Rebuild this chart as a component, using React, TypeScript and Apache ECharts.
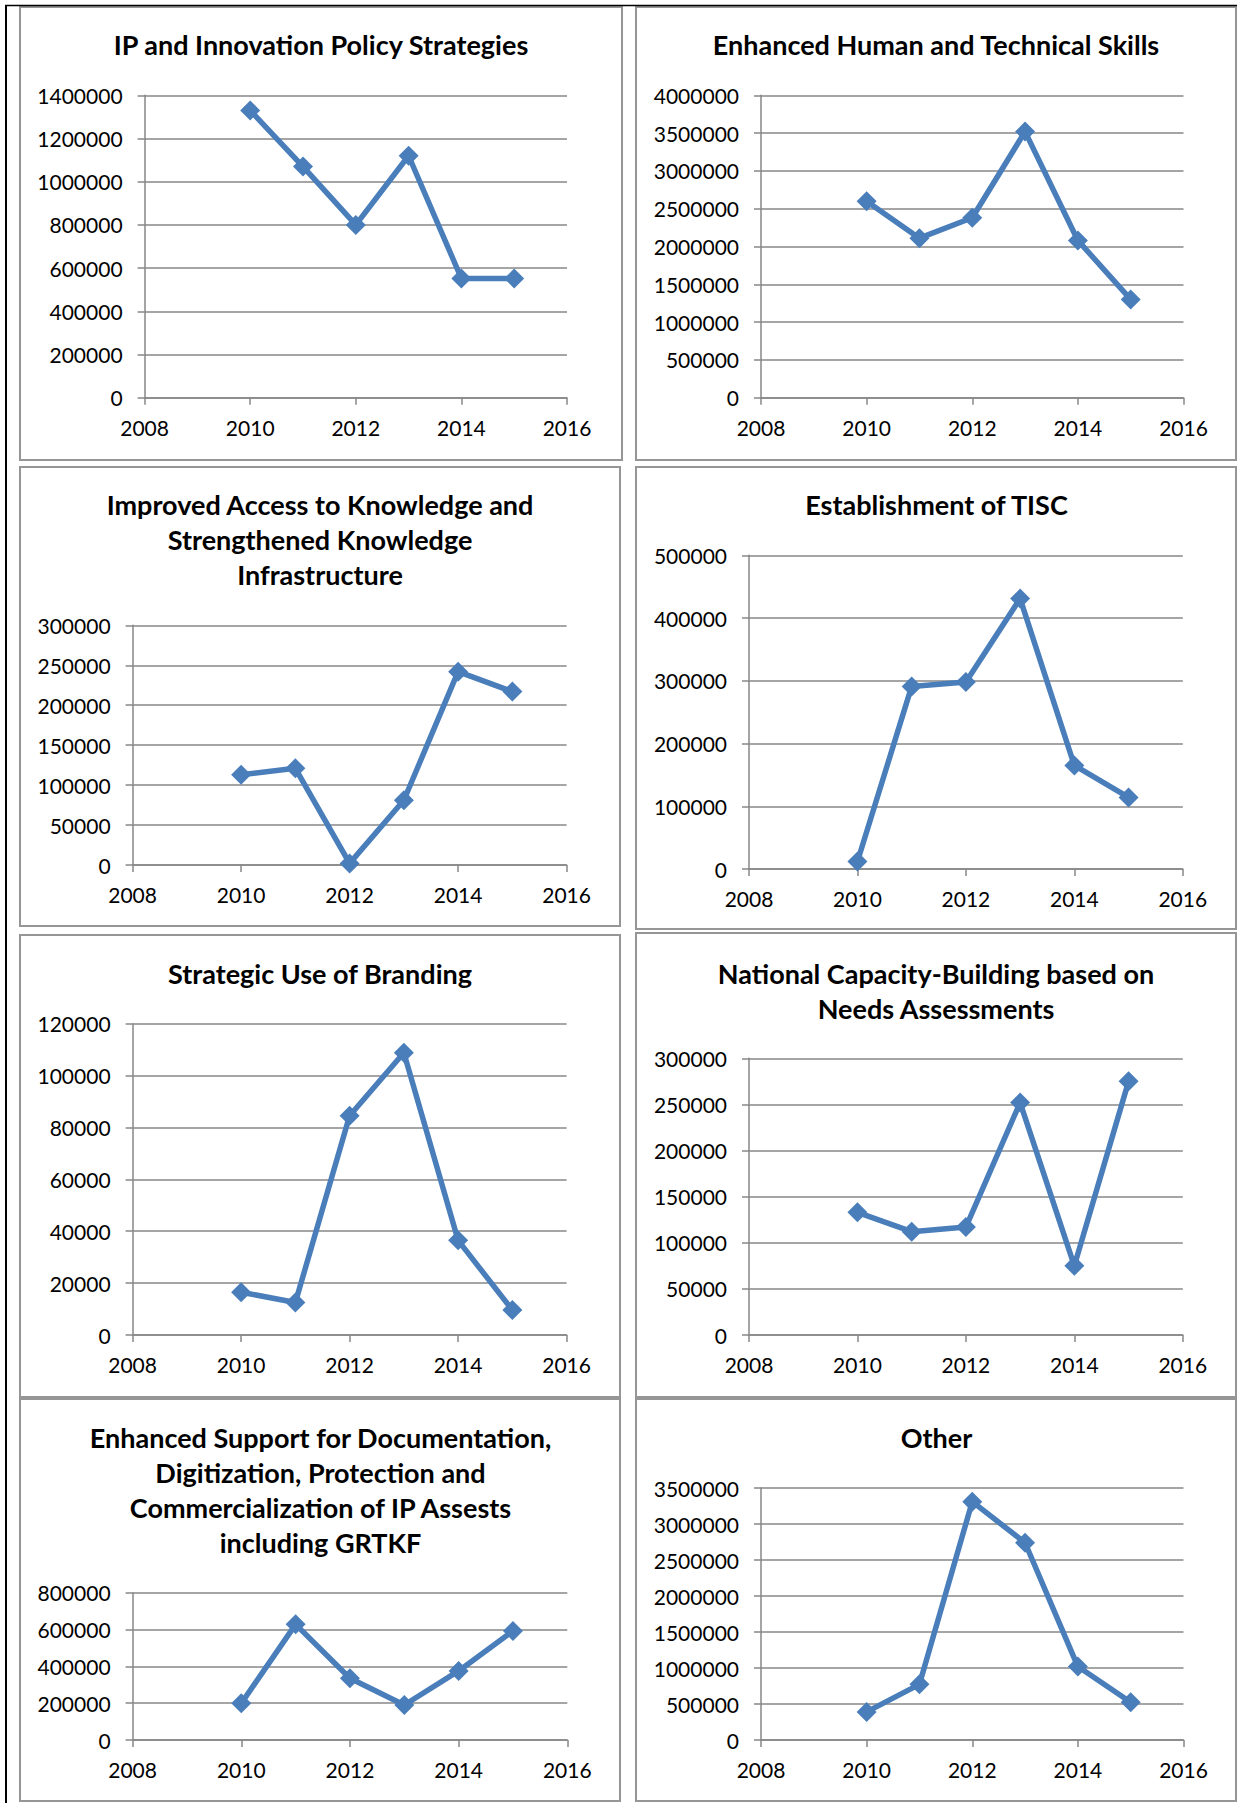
import React, { useEffect, useRef } from "react";
import * as echarts from "echarts";

// Fiscal years plotted on every panel
const years = [2010, 2011, 2012, 2013, 2014, 2015];

// Shared x axis range (years)
const xMin = 2008;
const xMax = 2016;
const xStep = 2;

// Panel titles, in reading order
const titles = [
  "IP and Innovation Policy Strategies",
  "Enhanced Human and Technical Skills",
  "Improved Access to Knowledge and\nStrengthened Knowledge\nInfrastructure",
  "Establishment of TISC",
  "Strategic Use of Branding",
  "National Capacity-Building based on\nNeeds Assessments",
  "Enhanced Support for Documentation,\nDigitization, Protection and\nCommercialization of IP Assests\nincluding GRTKF",
  "Other",
];

// Spending per year for each programme area
const ipPolicy = [1330000, 1070000, 800000, 1120000, 552000, 552000];
const humanSkills = [2600000, 2110000, 2380000, 3520000, 2080000, 1300000];
const knowledgeAccess = [113000, 121000, 2000, 81000, 242000, 217000];
const tisc = [12000, 291000, 298000, 431000, 165000, 114000];
const branding = [16500, 12500, 84500, 108800, 36500, 9600];
const nationalCapacity = [133000, 112000, 117000, 252000, 75000, 275000];
const grtkf = [199000, 628000, 335000, 190000, 375000, 592000];
const other = [390000, 773000, 3310000, 2740000, 1020000, 523000];

const seriesValues = [
  ipPolicy,
  humanSkills,
  knowledgeAccess,
  tisc,
  branding,
  nationalCapacity,
  grtkf,
  other,
];

// Value axis ranges per panel
const yMaxes = [1400000, 4000000, 300000, 500000, 120000, 300000, 800000, 3500000];
const ySteps = [200000, 500000, 50000, 100000, 20000, 50000, 200000, 500000];

// Page layout: framed boxes, plot areas and title anchors (pixels)
type Panel = {
  box: [number, number, number, number];
  plot: [number, number, number, number];
  titleX: number;
  titleY: number;
};

const panels: Panel[] = [
  { box: [20, 7, 602, 453], plot: [144.6, 95.3, 422.4, 302.4], titleX: 321, titleY: 26.5 },
  { box: [636, 7, 600, 453], plot: [761, 95.3, 422.5, 302.4], titleX: 936, titleY: 26.5 },
  { box: [20, 467, 600, 459], plot: [132.6, 625.3, 434, 239.7], titleX: 320, titleY: 486.5 },
  { box: [636, 467, 600, 462], plot: [749, 555.3, 433.8, 313.7], titleX: 936.5, titleY: 486.5 },
  { box: [20, 935, 600, 462], plot: [132.6, 1023.7, 434, 311.3], titleX: 320, titleY: 955.5 },
  { box: [636, 933, 600, 464], plot: [749, 1058.3, 433.8, 276.7], titleX: 936, titleY: 955.8 },
  { box: [20, 1399, 600, 402], plot: [132.6, 1592.7, 434.7, 147.3], titleX: 320.5, titleY: 1419.8 },
  { box: [636, 1399, 600, 402], plot: [761, 1488, 422.5, 252], titleX: 936.5, titleY: 1419.8 },
];

const FONT = "Lato, 'Open Sans', sans-serif";
const BLUE = "#4a7ebb";
const RULE = "#878787";
const FRAME = "#969696";

function buildOption(): echarts.EChartsOption {
  const axisLine = { show: true, lineStyle: { color: RULE, width: 1.5 } };
  const axisTick = { show: true, inside: false, length: 7, lineStyle: { color: RULE, width: 1.5 } };
  const labelStyle = { fontFamily: FONT, fontSize: 21, color: "#000" };

  return {
    animation: false,
    backgroundColor: "#ffffff",
    title: panels.map((p, i) => ({
      text: titles[i],
      left: p.titleX,
      top: p.titleY,
      textAlign: "center",
      padding: 0,
      textStyle: {
        fontFamily: FONT,
        fontWeight: "bold",
        fontSize: 27,
        color: "#000",
        lineHeight: 35,
      },
    })),
    grid: panels.map((p) => ({
      left: p.plot[0],
      top: p.plot[1],
      width: p.plot[2],
      height: p.plot[3],
      containLabel: false,
    })),
    xAxis: panels.map((_, i) => ({
      type: "value",
      gridIndex: i,
      min: xMin,
      max: xMax,
      interval: xStep,
      axisLine,
      axisTick,
      splitLine: { show: false },
      axisLabel: { ...labelStyle, margin: 19, formatter: (v: number) => String(v) },
    })),
    yAxis: panels.map((_, i) => ({
      type: "value",
      gridIndex: i,
      min: 0,
      max: yMaxes[i],
      interval: ySteps[i],
      axisLine,
      axisTick,
      splitLine: { show: true, lineStyle: { color: RULE, width: 1.5 } },
      axisLabel: { ...labelStyle, margin: 22, formatter: (v: number) => String(v) },
    })),
    series: seriesValues.map((vals, i) => ({
      type: "line",
      xAxisIndex: i,
      yAxisIndex: i,
      data: years.map((yr, j) => [yr, vals[j]]),
      symbol: "diamond",
      symbolSize: 20,
      showAllSymbol: true,
      lineStyle: { color: BLUE, width: 5.5 },
      itemStyle: { color: BLUE },
      z: 3,
    })),
    graphic: [
      ...panels.map((p) => ({
        type: "rect" as const,
        silent: true,
        shape: { x: p.box[0], y: p.box[1], width: p.box[2], height: p.box[3] },
        style: { fill: "none", stroke: FRAME, lineWidth: 2 },
      })),
      {
        type: "line" as const,
        silent: true,
        shape: { x1: 6, y1: 5, x2: 6, y2: 1803 },
        style: { stroke: "#000", lineWidth: 2 },
      },
      {
        type: "line" as const,
        silent: true,
        shape: { x1: 5, y1: 5.5, x2: 1237, y2: 5.5 },
        style: { stroke: "#000", lineWidth: 1.5 },
      },
    ],
  };
}

export default function App() {
  const ref = useRef<HTMLDivElement>(null);

  useEffect(() => {
    if (!ref.current) return;
    const chart = echarts.init(ref.current, undefined, { renderer: "svg" });
    chart.setOption(buildOption());
    return () => chart.dispose();
  }, []);

  return (
    <div
      ref={ref}
      style={{
        position: "absolute",
        left: 0,
        top: 0,
        width: 1237,
        height: 1803,
        background: "#fff",
      }}
    />
  );
}
